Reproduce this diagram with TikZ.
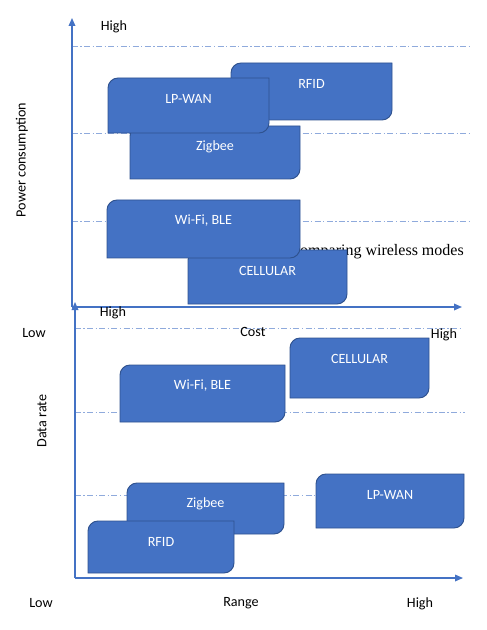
\documentclass[tikz,border=0pt]{standalone}
\usepackage{fontspec}
\setmainfont{Carlito}
\newfontfamily\capserif{Liberation Serif}
\usetikzlibrary{arrows.meta}
\definecolor{boxblue}{HTML}{4472C4}
\definecolor{boxedge}{HTML}{2F528F}
\definecolor{axisblue}{HTML}{4472C4}
\definecolor{gridc}{HTML}{8FAADC}
\newcommand\dbox[6]{%
  \filldraw[boxstyle] (#2,#5) -- (#2,#3+10) .. controls (#2,#3+4.5) and (#2+4.5,#3) .. (#2+10,#3) -- (#4,#3) -- (#4,#5-10) .. controls (#4,#5-4.5) and (#4-4.5,#5) .. (#4-10,#5) -- cycle;
  \node[boxlabel] (#1) at ({(#2+#4)/2},#3+21) {#6};
}
\tikzset{
  boxstyle/.style={fill=boxblue,draw=boxedge,line width=0.7pt},
  boxlabel/.style={text=white,inner sep=0pt,font=\fontsize{10.6pt}{12pt}\selectfont},
  lbl/.style={text=black,inner sep=0pt,font=\fontsize{10.6pt}{12pt}\selectfont},
  grid/.style={draw=gridc,line width=0.7pt,dash pattern=on 4.5pt off 1.8pt on 1pt off 1.8pt},
  axis/.style={draw=axisblue,line width=0.9pt,-{Triangle[length=6pt,width=5pt]}}
}
\begin{document}
\begin{tikzpicture}[x=0.75pt,y=-0.75pt]
\useasboundingbox (0,0) rectangle (486,630);
% ---------- top chart ----------
\coordinate (to) at (72,307);
\coordinate (ty) at (72,18);
\coordinate (tx) at (462,307);
\coordinate (g1a) at (72,46);  \coordinate (g1b) at (470,46);
\coordinate (g2a) at (72,133); \coordinate (g2b) at (470,133);
\coordinate (g3a) at (72,221); \coordinate (g3b) at (470,221);
\draw[grid] (g1a) -- (g1b);
\draw[grid] (g2a) -- (g2b);
\draw[grid] (g3a) -- (g3b);
\node[anchor=base east,inner sep=0pt,font=\capserif\fontsize{12pt}{14pt}\selectfont] (caption) at (464,256) {comparing wireless modes};
\dbox{tRFID}{231}{63}{392}{120}{RFID}
\dbox{tZig}{130}{126}{300}{179}{Zigbee}
\dbox{tLP}{108}{78}{269}{133}{LP-WAN}
\dbox{tCell}{188}{250}{347}{304}{CELLULAR}
\dbox{tWifi}{107}{200}{300}{258}{Wi-Fi, BLE}
\draw[axis] (to) -- (ty);
\draw[axis] (to) -- (tx);
\node[lbl] (thigh) at (114,27) {High};
\node[lbl,rotate=90] (tpow) at (22,160) {Power consumption};
% ---------- bottom chart ----------
\coordinate (bo) at (75,578);
\coordinate (by) at (75,302);
\coordinate (bx) at (463,578);
\coordinate (h1a) at (75,328);  \coordinate (h1b) at (463,328);
\coordinate (h2a) at (75,412);  \coordinate (h2b) at (465,412);
\coordinate (h3a) at (75,495);  \coordinate (h3b) at (317,495);
\draw[grid] (h1a) -- (h1b);
\draw[grid] (h2a) -- (h2b);
\draw[grid] (h3a) -- (h3b);
\dbox{bWifi}{120}{365}{285}{422}{Wi-Fi, BLE}
\dbox{bCell}{290}{338}{429}{398}{CELLULAR}
\dbox{bZig}{127}{483}{284}{534}{Zigbee}
\dbox{bRFID}{88}{521}{234}{573}{RFID}
\dbox{bLP}{316}{474}{464}{528}{LP-WAN}
\draw[axis] (bo) -- (by);
\draw[axis] (bo) -- (bx);
\node[lbl] (bhigh) at (113,313) {High};
\node[lbl] (blow1) at (34,333) {Low};
\node[lbl] (bcost) at (253,332) {Cost};
\node[lbl] (bhigh2) at (444,335) {High};
\node[lbl,rotate=90] (brate) at (42,421) {Data rate};
\node[lbl] (blow2) at (41,603) {Low};
\node[lbl] (brange) at (241,603) {Range};
\node[lbl] (bhigh3) at (420,604) {High};
\end{tikzpicture}
\end{document}
